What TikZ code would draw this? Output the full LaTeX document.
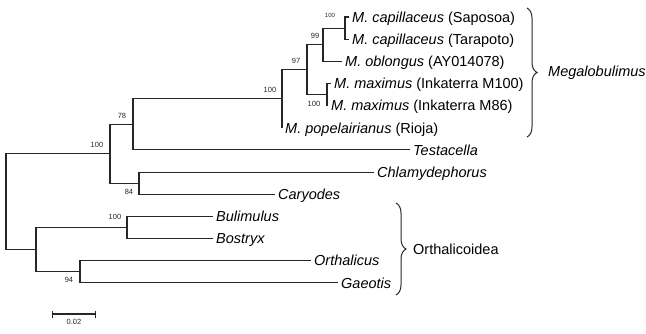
\documentclass[tikz,border=0pt]{standalone}
\usepackage{fontspec}
\setmainfont{Liberation Sans}
\usepackage{tikz}
\usetikzlibrary{arrows.meta, positioning, calc, decorations.pathreplacing}

\begin{document}
\begin{tikzpicture}[
    x=1pt, y=-1pt,
    branch/.style={line width=1.1pt, black!85},
    leaf/.style={anchor=west, inner xsep=3pt, inner ysep=0pt,
                 text height=10.4pt, text depth=0pt,
                 font=\fontsize{14.5}{16}\selectfont},
    boot/.style={inner sep=0pt, font=\fontsize{7.5}{8}\selectfont, text=black!85},
    cladebrace/.style={decorate, decoration={brace, amplitude=10pt},
                 line width=1pt, black!85},
    cladelbl/.style={anchor=west, inner sep=0pt,
                 font=\fontsize{14.5}{16}\selectfont},
    scalebar/.style={{Bar[width=7pt]}-{Bar[width=7pt]}, line width=1.1pt, black!85},
  ]
    \useasboundingbox (0,0) rectangle (646,333);

    % ── Internal nodes ───────────────────────────
    \coordinate (root) at (6,201.6);
    \coordinate (nA) at (110,153.7);
    \coordinate (nB) at (133,124.3);
    \coordinate (nC) at (139,183.1);
    \coordinate (nD) at (282,98.6);
    \coordinate (nE) at (307,69.5);
    \coordinate (nF) at (323,44.6);
    \coordinate (nH) at (345,28.1);
    \coordinate (nG) at (327,94.6);
    \coordinate (nK) at (36,249.6);
    \coordinate (nI) at (127,227.4);
    \coordinate (nJ) at (80,271.7);

    % ── Leaf tips ────────────────────────────────
    \coordinate (sap) at (349,17);
    \coordinate (tar) at (349,39.2);
    \coordinate (obl) at (342,61.3);
    \coordinate (m100) at (331,83.5);
    \coordinate (m86) at (328,105.6);
    \coordinate (pop) at (282,127.8);
    \coordinate (tes) at (410,149.9);
    \coordinate (chl) at (374,172.1);
    \coordinate (car) at (275,194.2);
    \coordinate (bul) at (213,216.4);
    \coordinate (bos) at (213,238.5);
    \coordinate (ort) at (311,260.7);
    \coordinate (gae) at (338,282.8);

    % ── Branches ─────────────────────────────────
    \draw[branch] (root) |- (nA);
    \draw[branch] (root) |- (nK);
    \draw[branch] (nA) |- (nB);
    \draw[branch] (nA) |- (nC);
    \draw[branch] (nB) |- (nD);
    \draw[branch] (nB) |- (tes);
    \draw[branch] (nD) |- (nE);
    \draw[branch] (nD) |- (pop);
    \draw[branch] (nE) |- (nF);
    \draw[branch] (nE) |- (nG);
    \draw[branch] (nF) |- (nH);
    \draw[branch] (nF) |- (obl);
    \draw[branch] (nH) |- (sap);
    \draw[branch] (nH) |- (tar);
    \draw[branch] (nG) |- (m100);
    \draw[branch] (nG) |- (m86);
    \draw[branch] (nC) |- (chl);
    \draw[branch] (nC) |- (car);
    \draw[branch] (nK) |- (nI);
    \draw[branch] (nK) |- (nJ);
    \draw[branch] (nI) |- (bul);
    \draw[branch] (nI) |- (bos);
    \draw[branch] (nJ) |- (ort);
    \draw[branch] (nJ) |- (gae);

    % ── Taxon labels ─────────────────────────────
    \node[leaf] (sapL) at (sap) {\textit{M. capillaceus} (Saposoa)};
    \node[leaf] (tarL) at (tar) {\textit{M. capillaceus} (Tarapoto)};
    \node[leaf] (oblL) at (obl) {\textit{M. oblongus} (AY014078)};
    \node[leaf] (m100L) at (m100) {\textit{M. maximus} (Inkaterra M100)};
    \node[leaf] (m86L) at (m86) {\textit{M. maximus} (Inkaterra M86)};
    \node[leaf] (popL) at (pop) {\textit{M. popelairianus} (Rioja)};
    \node[leaf] (tesL) at (tes) {\textit{Testacella}};
    \node[leaf] (chlL) at (chl) {\textit{Chlamydephorus}};
    \node[leaf] (carL) at (car) {\textit{Caryodes}};
    \node[leaf] (bulL) at (bul) {\textit{Bulimulus}};
    \node[leaf] (bosL) at (bos) {\textit{Bostryx}};
    \node[leaf] (ortL) at (ort) {\textit{Orthalicus}};
    \node[leaf] (gaeL) at (gae) {\textit{Gaeotis}};

    % ── Bootstrap values ─────────────────────────
    \node[boot, font=\fontsize{6}{7}\selectfont] (bH) at (330,15) {100};
    \node[boot] (bF) at (315,36) {99};
    \node[boot] (bE) at (296,61) {97};
    \node[boot] (bD) at (270,90) {100};
    \node[boot] (bG) at (314,104) {100};
    \node[boot] (bB) at (122,116) {78};
    \node[boot] (bA) at (97,145) {100};
    \node[boot] (bC) at (129,192) {84};
    \node[boot] (bI) at (115,217) {100};
    \node[boot] (bJ) at (69,280) {94};

    % ── Clades ───────────────────────────────────
    \coordinate (megTop) at (527,8);
    \coordinate (megBot) at (527,137);
    \draw[cladebrace] (megTop) -- (megBot);
    \node[cladelbl] (meg) at (548,72.5) {\textit{Megalobulimus}};

    \coordinate (ortTop) at (396,203);
    \coordinate (ortBot) at (396,295);
    \draw[cladebrace] (ortTop) -- (ortBot);
    \node[cladelbl] (orth) at (413,249) {Orthalicoidea};

    % ── Scale bar ────────────────────────────────
    \coordinate (sbL) at (52,314);
    \coordinate (sbR) at (96,314);
    \draw[scalebar] (sbL) -- (sbR);
    \node[boot, below=5pt of $(sbL)!0.5!(sbR)$] (sbT) {0.02};
  \end{tikzpicture}
\end{document}
